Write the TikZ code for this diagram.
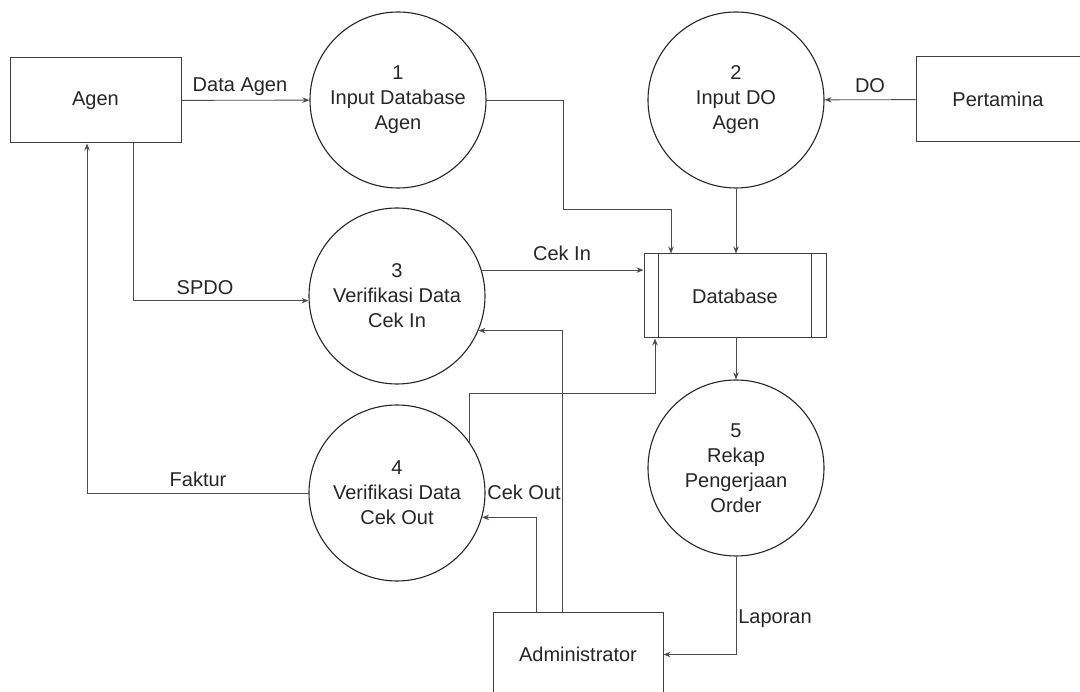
\documentclass[tikz,border=0pt]{standalone}
\usepackage{fontspec}
\setmainfont{Liberation Sans}
\usetikzlibrary{arrows.meta}
\tikzset{pr/.style={draw=black!85,circle,minimum size=176pt,inner sep=0pt,align=center,line width=1.1pt},
 ent/.style={draw=black!75,minimum width=171pt,minimum height=85pt,line width=1pt},
 ar/.style={draw=black!70,line width=0.9pt,-{Stealth[length=7pt,width=5.5pt]}},lb/.style={inner sep=0pt}}
\begin{document}
\begin{tikzpicture}[x=1pt,y=-1pt,every node/.style={font=\fontsize{20}{25}\selectfont,text=black!85}]
\useasboundingbox (0,0) rectangle (1080,692);
\node[ent](agen) at (95.5,100.5){Agen};\node[ent,minimum width=164pt](pert) at (998,99.5){Pertamina};
\node[ent,minimum width=170pt](adm) at (578,654.5){Administrator};
\node[pr](p1) at (398,100){1\\Input Database\\Agen};\node[pr](p2) at (736,100){2\\Input DO\\Agen};
\node[pr](p3) at (397,296){3\\Verifikasi Data\\Cek In};\node[pr](p4) at (397,493){4\\Verifikasi Data\\Cek Out};
\node[pr](p5) at (736,468){5\\Rekap\\Pengerjaan\\Order};
\node[ent,minimum width=182pt,minimum height=84pt](db) at (735,296){Database};
\draw[black!75,line width=1pt]([xshift=15pt]db.north west)--([xshift=15pt]db.south west)([xshift=-15pt]db.north east)--([xshift=-15pt]db.south east);
% flows
\draw[ar](agen)--(p1);\draw[ar](pert)--(p2);
\draw[ar](p1.east)-|(563,209)-|([xshift=-64pt]db.north);
\draw[ar](p2.south)--(p2.south|-db.north);
\draw[ar]([xshift=37.5pt]agen.south)|-(p3.183);
\draw[ar](p3.17)--(p3.17-|db.west);
\draw[ar](p4.west)-|([xshift=-8.5pt]agen.south);
\draw[ar](p4.35)|-([xshift=-80pt,yshift=-55pt]db.south)--([xshift=-80pt]db.south);
\draw[ar]([xshift=-42pt]adm.north)|-(p4.-16);\draw[ar]([xshift=-16pt]adm.north)|-(p3.-23);
\draw[ar](p5.north|-db.south)--(p5.north);\draw[ar](p5.south)|-(adm.east);
% labels
\node[lb] at (240,87){Data Agen};\node[lb] at (870,86){DO};\node[lb] at (562,253){Cek In};
\node[lb] at (205,288){SPDO};\node[lb] at (198,479){Faktur};\node[lb] at (524,492){Cek Out};
\node[lb] at (775,619){Laporan};
\end{tikzpicture}
\end{document}
